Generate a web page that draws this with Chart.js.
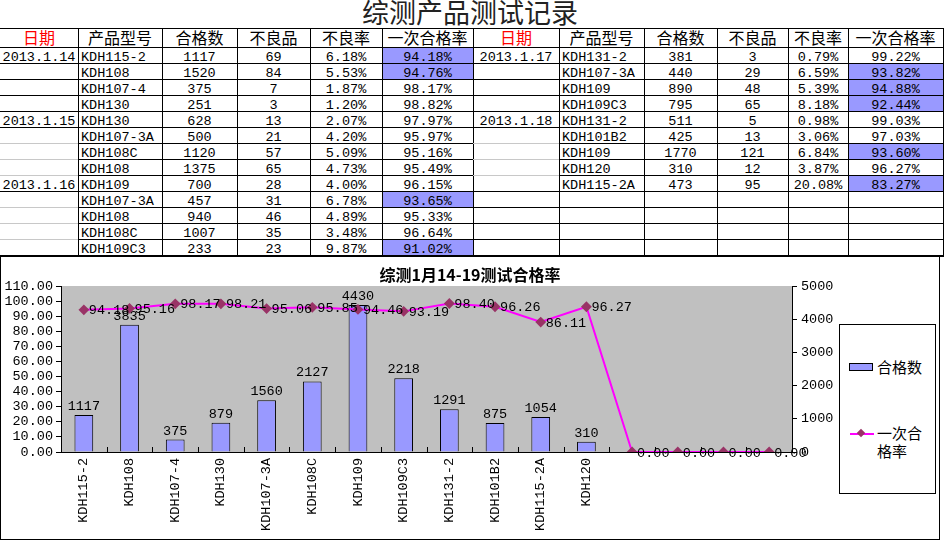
<!DOCTYPE html>
<html><head><meta charset="utf-8">
<script src="https://cdn.jsdelivr.net/npm/chart.js@4.4.1/dist/chart.umd.min.js"></script>
<style>
html,body{margin:0;padding:0;background:#fff;width:944px;height:542px;overflow:hidden;position:relative;}
#sheet{position:absolute;left:0;top:0;width:944px;height:257px;}
.cell{position:absolute;box-sizing:border-box;white-space:nowrap;font-family:'Liberation Mono','Noto Sans CJK SC',monospace;font-size:13.5px;line-height:16px;color:#000;}
.hdr{font-family:'Noto Sans CJK SC',sans-serif;font-size:16px;line-height:19px;text-align:center;}
.ln{position:absolute;background:#000;}
#title{position:absolute;left:0;width:940px;top:-2px;text-align:center;font-family:'Noto Sans CJK SC',sans-serif;font-size:27px;line-height:27px;color:#222;}
#chartBox{position:absolute;left:0;top:256px;width:940px;height:284px;border:1px solid #000;box-sizing:border-box;background:#fff;}
#chartBox canvas{position:absolute;left:0;top:0;}
#legend{position:absolute;left:839px;top:324px;width:97px;height:170px;border:1px solid #000;box-sizing:border-box;background:#fff;font-family:'Noto Sans CJK SC',sans-serif;font-size:15px;line-height:18px;color:#000;}
</style></head>
<body>
<div id="title">综测产品测试记录</div>
<div id="sheet"></div>
<div id="chartBox"><canvas id="c" width="938" height="282"></canvas></div>
<div id="legend">
  <div style="position:absolute;left:9px;top:38px;width:24px;height:8px;background:#9999FF;border:1px solid #000;box-sizing:border-box;"></div>
  <div style="position:absolute;left:37px;top:33px;">合格数</div>
  <div style="position:absolute;left:10px;top:108px;width:24px;height:2px;background:#FF00FF;"></div>
  <div style="position:absolute;left:18px;top:105px;width:6px;height:6px;background:#993366;transform:rotate(45deg);"></div>
  <div style="position:absolute;left:37px;top:99px;width:46px;">一次合格率</div>
</div>
<script>
// ---------- table data ----------
const tableHeaders = ['日期','产品型号','合格数','不良品','不良率','一次合格率'];
const leftDates    = ['2013.1.14','','','','2013.1.15','','','','2013.1.16','','','',''];
const leftModels   = ['KDH115-2','KDH108','KDH107-4','KDH130','KDH130','KDH107-3A','KDH108C','KDH108','KDH109','KDH107-3A','KDH108','KDH108C','KDH109C3'];
const leftPass     = ['1117','1520','375','251','628','500','1120','1375','700','457','940','1007','233'];
const leftBad      = ['69','84','7','3','13','21','57','65','28','31','46','35','23'];
const leftBadRate  = ['6.18%','5.53%','1.87%','1.20%','2.07%','4.20%','5.09%','4.73%','4.00%','6.78%','4.89%','3.48%','9.87%'];
const leftFirst    = ['94.18%','94.76%','98.17%','98.82%','97.97%','95.97%','95.16%','95.49%','96.15%','93.65%','95.33%','96.64%','91.02%'];
const rightDates   = ['2013.1.17','','','','2013.1.18','','','','','','','',''];
const rightModels  = ['KDH131-2','KDH107-3A','KDH109','KDH109C3','KDH131-2','KDH101B2','KDH109','KDH120','KDH115-2A','','','',''];
const rightPass    = ['381','440','890','795','511','425','1770','310','473','','','',''];
const rightBad     = ['3','29','48','65','5','13','121','12','95','','','',''];
const rightBadRate = ['0.79%','6.59%','5.39%','8.18%','0.98%','3.06%','6.84%','3.87%','20.08%','','','',''];
const rightFirst   = ['99.22%','93.82%','94.88%','92.44%','99.03%','97.03%','93.60%','96.27%','83.27%','','','',''];

// ---------- chart data ----------
const categories = ['KDH115-2','KDH108','KDH107-4','KDH130','KDH107-3A','KDH108C','KDH109','KDH109C3','KDH131-2','KDH101B2','KDH115-2A','KDH120','','','',''];
const passCounts = [1117,3835,375,879,1560,2127,4430,2218,1291,875,1054,310,null,null,null,null];
const firstPassRates = [94.18,95.16,98.17,98.21,95.06,95.85,94.46,93.19,98.40,96.26,86.11,96.27,0,0,0,0];
const chartTitle = '综测1月14-19测试合格率';
const seriesNames = ['合格数','一次合格率'];

// ---------- build sheet ----------
const sheet = document.getElementById('sheet');
function add(cls, css, text){ const d=document.createElement('div'); d.className=cls; Object.assign(d.style, css); if(text!==undefined) d.textContent=text; sheet.appendChild(d); return d; }
const groups = [
  {xs:[0,78,162,237,310,382,473], cols:[leftDates,leftModels,leftPass,leftBad,leftBadRate,leftFirst], gray:[5,6,7,9,10,11]},
  {xs:[473,559,644,717,788,848,943], cols:[rightDates,rightModels,rightPass,rightBad,rightBadRate,rightFirst], gray:[5,6,7]}
];
const rowTop0 = 47, rowH = 16, nRows = 13;
groups.forEach(g=>{
  for(let c=0;c<6;c++){
    add('cell hdr',{left:g.xs[c]+'px',top:'28px',width:(g.xs[c+1]-g.xs[c])+'px',height:'19px',color:c===0?'#FF0000':'#000'},tableHeaders[c]);
  }
  for(let r=0;r<nRows;r++){
    const top = rowTop0 + r*rowH;
    const fv = g.cols[5][r];
    if(fv && parseFloat(fv) < 95){
      add('cell',{left:(g.xs[5]+1)+'px',top:(top+1)+'px',width:(g.xs[6]-g.xs[5]-1)+'px',height:(rowH-1)+'px',background:'#9999FF'});
    }
    for(let c=0;c<6;c++){
      const t = g.cols[c][r];
      if(!t) continue;
      const css = {left:g.xs[c]+'px',top:(top+3)+'px',width:(g.xs[c+1]-g.xs[c])+'px',height:'16px',textAlign:c===1?'left':'center'};
      if(c===1) css.paddingLeft='3px';
      add('cell',css,t);
    }
  }
  for(let r=0;r<nRows;r++){
    const y = rowTop0 + (r+1)*rowH;
    for(let c=0;c<6;c++){
      const gray = (c===0 && g.gray.includes(r));
      add('ln',{left:g.xs[c]+'px',top:y+'px',width:(g.xs[c+1]-g.xs[c]+1)+'px',height:(r===nRows-1?2:1)+'px',background:gray?'#c8c8c8':'#000'});
    }
  }
  for(let c=1;c<=6;c++){
    add('ln',{left:g.xs[c]+'px',top:'28px',width:'1px',height:(rowTop0+nRows*rowH-28)+'px'});
  }
});
add('ln',{left:'0px',top:'28px',width:'944px',height:'1px'});
add('ln',{left:'0px',top:'47px',width:'944px',height:'1px'});

// ---------- chart ----------
const monoFont = {family:"'Liberation Mono','Noto Sans CJK SC',monospace", size:13.5};
const plotBg = {
  id:'plotBg',
  beforeDraw(chart){
    const {ctx, chartArea:a} = chart;
    ctx.save(); ctx.fillStyle='#C0C0C0'; ctx.fillRect(a.left,a.top,a.right-a.left,a.bottom-a.top); ctx.restore();
  },
  beforeDatasetsDraw(chart){
    const {ctx, chartArea:a, scales:{x}} = chart;
    const step = x.getPixelForValue(1) - x.getPixelForValue(0);
    ctx.save(); ctx.strokeStyle='#000'; ctx.lineWidth=1;
    for(let i=0;i<=categories.length;i++){
      const px = Math.round(x.getPixelForValue(i) - step/2) + 0.5;
      ctx.beginPath(); ctx.moveTo(px,a.bottom); ctx.lineTo(px,a.bottom-5); ctx.stroke();
    }
    ctx.restore();
  }
};
const valueLabels = {
  id:'valueLabels',
  afterDatasetsDraw(chart){
    const ctx = chart.ctx;
    ctx.save();
    ctx.font = "13.5px 'Liberation Mono','Noto Sans CJK SC',monospace";
    ctx.fillStyle = '#000';
    const barMeta = chart.getDatasetMeta(1);
    barMeta.data.forEach((el,i)=>{
      const v = chart.data.datasets[1].data[i];
      if(v==null) return;
      ctx.textAlign='center'; ctx.textBaseline='alphabetic';
      ctx.fillText(String(v), el.x, el.y-5);
    });
    const lineMeta = chart.getDatasetMeta(0);
    lineMeta.data.forEach((el,i)=>{
      const v = chart.data.datasets[0].data[i];
      ctx.textAlign='left'; ctx.textBaseline='middle';
      ctx.fillText(v.toFixed(2), el.x+5, el.y+1);
    });
    ctx.restore();
  }
};

new Chart(document.getElementById('c'), {
  type:'bar',
  data:{
    labels:categories,
    datasets:[
      {type:'line', label:seriesNames[1], data:firstPassRates, yAxisID:'y', borderColor:'#FF00FF', borderWidth:2,
       pointStyle:'rectRot', pointRadius:4, pointBackgroundColor:'#993366', pointBorderColor:'#993366', tension:0, order:0},
      {type:'bar', label:seriesNames[0], data:passCounts, yAxisID:'y1', backgroundColor:'#9999FF', borderColor:'#000', borderWidth:1,
       barPercentage:0.41, categoryPercentage:1, order:1}
    ]
  },
  options:{
    responsive:false, animation:false, devicePixelRatio:1,
    layout:{padding:0},
    plugins:{
      legend:{display:false}, tooltip:{enabled:false},
      title:{display:true, text:chartTitle, color:'#000', font:{family:"'Noto Sans CJK SC',sans-serif", size:16, weight:'bold', lineHeight:1.2}, padding:{top:8.6,bottom:1.2}}
    },
    scales:{
      x:{offset:true, grid:{display:false, drawTicks:false, tickLength:0}, border:{display:true,color:'#000',width:1},
         ticks:{minRotation:90, maxRotation:90, autoSkip:false, padding:6, color:'#000', font:monoFont},
         afterFit(s){ s.height = 87; }},
      y:{position:'left', min:0, max:110, grid:{display:true, drawOnChartArea:false, drawTicks:true, tickLength:5, color:'#000'},
         border:{display:true,color:'#000',width:1},
         ticks:{stepSize:10, autoSkip:false, padding:3, color:'#000', font:monoFont, callback:v=>Number(v).toFixed(2)},
         afterFit(s){ s.width = 60; }},
      y1:{position:'right', min:0, max:5000, grid:{display:true, drawOnChartArea:false, drawTicks:true, tickLength:5, color:'#000'},
         border:{display:true,color:'#000',width:1},
         ticks:{stepSize:1000, autoSkip:false, padding:4, color:'#000', font:monoFont, callback:v=>String(v)},
         afterFit(s){ s.width = 147; }}
    }
  },
  plugins:[plotBg, valueLabels]
});
</script>
</body></html>
